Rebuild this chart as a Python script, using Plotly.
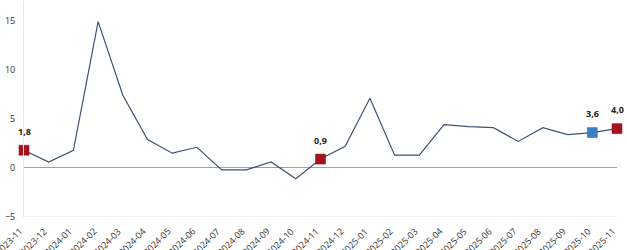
import plotly.graph_objects as go

months = ["2023-11","2023-12","2024-01","2024-02","2024-03","2024-04","2024-05","2024-06",
          "2024-07","2024-08","2024-09","2024-10","2024-11","2024-12","2025-01","2025-02",
          "2025-03","2025-04","2025-05","2025-06","2025-07","2025-08","2025-09","2025-10","2025-11"]
values = [1.8, 0.6, 1.8, 14.9, 7.4, 2.9, 1.5, 2.1, -0.2, -0.2, 0.6, -1.1, 0.9, 2.2, 7.1, 1.3,
          1.3, 4.4, 4.2, 4.1, 2.7, 4.1, 3.4, 3.6, 4.0]
highlight_red = ["2023-11", "2024-11", "2025-11"]
highlight_blue = ["2025-10"]
y_ticks = [-5, 0, 5, 10, 15]

idx = list(range(len(months)))
red_x = [months.index(m) for m in highlight_red]
red_y = [values[i] for i in red_x]
blue_x = [months.index(m) for m in highlight_blue]
blue_y = [values[i] for i in blue_x]

def lbl(v):
    return f"<b>{v:.1f}</b>".replace(".", ",")

fig = go.Figure()
fig.add_trace(go.Scatter(x=idx, y=values, mode="lines",
                         line=dict(color="#3d5370", width=1.2), hoverinfo="skip",
                         cliponaxis=False))
fig.add_trace(go.Scatter(x=red_x, y=red_y, mode="markers",
                         marker=dict(symbol="square", size=10, color="#a3141f",
                                     line=dict(color="#7a0f17", width=0.5)),
                         cliponaxis=False))
fig.add_trace(go.Scatter(x=blue_x, y=blue_y, mode="markers",
                         marker=dict(symbol="square", size=10, color="#3a7fc4",
                                     line=dict(color="#2a6aa8", width=0.5)),
                         cliponaxis=False))

for xs, ys in ((red_x, red_y), (blue_x, blue_y)):
    for xv, yv in zip(xs, ys):
        fig.add_annotation(x=xv, y=yv, xref="x", yref="y", text=lbl(yv),
                           showarrow=False, yshift=19, xanchor="center", yanchor="middle",
                           font=dict(size=9, color="#222", family="Open Sans"))

plot_h = 250 - 1 - 33
for i, m in zip(idx, months):
    fig.add_annotation(x=i, y=-5.0 / plot_h, xref="x", yref="paper",
                       text=m, textangle=-45, showarrow=False,
                       xanchor="right", yanchor="top", xshift=4,
                       font=dict(size=9, color="#333", family="Open Sans"))

fig.update_layout(
    width=627, height=250,
    margin=dict(l=24, r=10, t=1, b=33),
    plot_bgcolor="white", paper_bgcolor="white",
    showlegend=False,
    font=dict(family="Open Sans", size=9, color="#333"),
    xaxis=dict(range=[0, 24], showgrid=False, zeroline=False, automargin=False,
               showticklabels=False, showline=False, ticks=""),
    yaxis=dict(tickmode="array", tickvals=y_ticks, range=[-5, 17], automargin=False,
               showgrid=False, zeroline=True, zerolinecolor="#a0a0a0", zerolinewidth=1.2,
               showline=True, linecolor="#e6e6e6", linewidth=1, ticks="",
               ticklabelstandoff=6, tickfont=dict(size=9, color="#333")),
)
fig.add_shape(type="line", xref="paper", yref="y", x0=0, x1=1, y0=-5, y1=-5,
              line=dict(color="#e6e6e6", width=1))

fig.write_html("out.html")
